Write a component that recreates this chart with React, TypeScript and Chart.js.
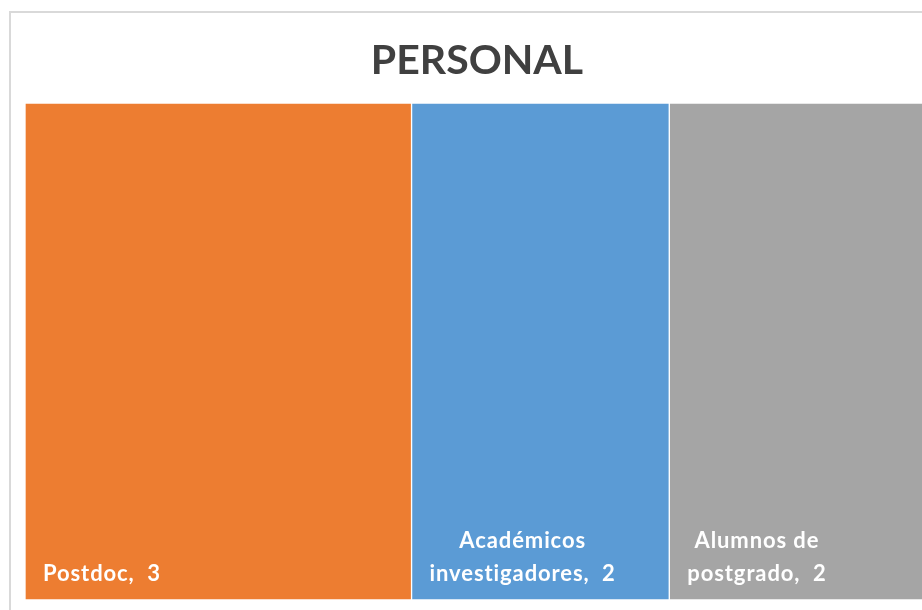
import React, { useEffect, useRef } from "react";
import { Chart, registerables } from "chart.js";

Chart.register(...registerables);

const title = "PERSONAL";
const categories = ["Postdoc", "Académicos investigadores", "Alumnos de postgrado"];
const values = [3, 2, 2];
const colors = ["#ED7D31", "#5B9BD5", "#A5A5A5"];

const LABEL_FONT = "bold 22px Lato";
const TITLE_FONT = "bold 41px Lato";

function wrap(ctx: CanvasRenderingContext2D, text: string, maxW: number): string[] {
  const words = text.split(" ");
  const lines: string[] = [];
  let cur = "";
  for (const w of words) {
    const test = cur ? cur + " " + w : w;
    if (cur && ctx.measureText(test).width > maxW) {
      lines.push(cur);
      cur = w;
    } else {
      cur = test;
    }
  }
  if (cur) lines.push(cur);
  return lines;
}

const decorPlugin = {
  id: "decor",
  beforeDraw(chart: any) {
    const ctx = chart.ctx as CanvasRenderingContext2D;
    const { chartArea } = chart;
    ctx.save();
    ctx.fillStyle = "#ffffff";
    ctx.fillRect(0, 0, chart.width, chart.height);
    ctx.strokeStyle = "#d9d9d9";
    ctx.lineWidth = 2;
    ctx.strokeRect(2, 4, chart.width + 40, chart.height + 40);
    ctx.fillStyle = "#404040";
    ctx.font = TITLE_FONT;
    ctx.textAlign = "center";
    ctx.textBaseline = "alphabetic";
    ctx.fillText(title, (chartArea.left + chartArea.right) / 2 + 1, 66);
    ctx.restore();
  },
  afterDatasetsDraw(chart: any) {
    const ctx = chart.ctx as CanvasRenderingContext2D;
    ctx.save();
    ctx.font = LABEL_FONT;
    (ctx as any).letterSpacing = "0.9px";
    ctx.fillStyle = "#ffffff";
    ctx.textBaseline = "alphabetic";
    chart.data.datasets.forEach((ds: any, i: number) => {
      const el = chart.getDatasetMeta(i).data[0];
      if (!el) return;
      const left = Math.min(el.base, el.x);
      const bottom = el.y + el.height / 2;
      const lines = wrap(ctx, `${ds.label},  ${ds.data[0]}`, 215);
      const maxW = Math.max(...lines.map((l) => ctx.measureText(l).width));
      const blockLeft = left + 18;
      ctx.textAlign = "left";
      lines.forEach((line, k) => {
        const w = ctx.measureText(line).width;
        const y = bottom - 19 - (lines.length - 1 - k) * 33;
        ctx.fillText(line, blockLeft + (maxW - w) / 2, y);
      });
    });
    ctx.restore();
  },
};

export default function App() {
  const ref = useRef<HTMLCanvasElement>(null);
  useEffect(() => {
    if (!ref.current) return;
    const chart = new Chart(ref.current, {
      type: "bar",
      data: {
        labels: ["Personal"],
        datasets: categories.map((c, i) => ({
          label: c,
          data: [values[i]],
          backgroundColor: colors[i],
          borderColor: "#ffffff",
          borderWidth: 1,
          borderSkipped: false,
          barPercentage: 1,
          categoryPercentage: 1,
        })),
      },
      options: {
        indexAxis: "y",
        responsive: false,
        animation: false,
        layout: { padding: { top: 95, left: 17, right: 21, bottom: 48 } },
        scales: {
          x: { display: false, stacked: true, min: 0, max: 7 },
          y: { display: false, stacked: true },
        },
        plugins: {
          legend: { display: false },
          tooltip: { enabled: false },
          title: { display: false },
        },
      },
      plugins: [decorPlugin],
    } as any);
    return () => chart.destroy();
  }, []);
  return (
    <>
      <style>{`html, body { overflow: hidden; }`}</style>
      <div style={{ position: "fixed", left: 8, top: 8, width: 914, height: 602, overflow: "hidden" }}>
        <canvas ref={ref} width={940} height={640} style={{ display: "block", width: 940, height: 640 }} />
      </div>
    </>
  );
}
